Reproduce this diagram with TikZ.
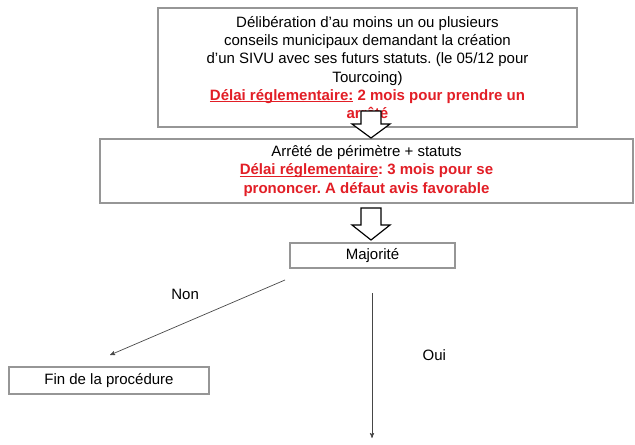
\documentclass[tikz,border=0pt]{standalone}
\usepackage{fontspec}
\setmainfont{Liberation Sans}
\usepackage{tikz}
\usetikzlibrary{arrows}

\definecolor{delaired}{RGB}{226,30,38}
\definecolor{boxgray}{RGB}{150,150,150}
\definecolor{linegray}{RGB}{70,70,70}

\newcommand{\delai}[1]{\textcolor{delaired}{\bfseries #1}}
\newcommand{\souligne}[1]{\setbox0\hbox{#1}\rlap{\rule[-1.6pt]{\wd0}{0.7pt}}\box0\relax}
\frenchspacing

\begin{document}
\begin{tikzpicture}[x=0.03cm,y=-0.03cm,>=stealth',
  step box/.style={rectangle,draw=boxgray,line width=0.9pt,fill=white,inner sep=0pt,
    align=center,font=\fontsize{12.8}{15.6}\selectfont},
  label text/.style={font=\fontsize{12.8}{15.6}\selectfont},
  connector/.style={->,draw=linegray,line width=0.6pt},
  block arrow/.style={draw=black,line width=1pt,fill=white}]

  \useasboundingbox (0,0) rectangle (635,445);

  \node[step box,minimum width=12.57cm,minimum height=3.57cm] (deliberation) at (367.5,67.5)
    {D\'elib\'eration d’au moins un ou plusieurs\\
     conseils municipaux demandant la cr\'eation\\
     d’un SIVU avec ses futurs statuts. (le 05/12 pour\\
     Tourcoing)\\
     \delai{\souligne{D\'elai r\'eglementaire:} 2 mois pour prendre un}\\
     \delai{arr\^et\'e}};
  \node[step box,minimum width=15.99cm,minimum height=1.92cm] (arrete) at (366.5,171)
    {Arr\^et\'e de p\'erim\`etre + statuts\\
     \delai{\souligne{D\'elai r\'eglementaire}: 3 mois pour se}\\
     \delai{prononcer. A d\'efaut avis favorable}};
  \node[step box,minimum width=4.95cm,minimum height=0.75cm] (majorite) at (372.5,255.5) {Majorit\'e};
  \node[step box,minimum width=6cm,minimum height=0.81cm] (fin) at (109,380.5) {Fin de la proc\'edure};

  % block arrows between the steps
  \draw[block arrow] (361,111) -- (381,111) -- (381,124) -- (390,124) -- (371,138)
    -- (352,124) -- (361,124) -- cycle;
  \draw[block arrow] (361,208) -- (381,208) -- (381,225) -- (390,225) -- (371,240)
    -- (352,225) -- (361,225) -- cycle;

  \coordinate (non start) at (285,280);
  \coordinate (non end) at (110,355);
  \coordinate (oui start) at (372,293);
  \coordinate (oui end) at (372,438);

  \path (non start) edge[connector] node[label text,above=0.4cm,xshift=-0.37cm] {Non} (non end)
        (oui start) edge[connector] node[label text,right=1.39cm,yshift=0.3cm] {Oui} (oui end);

\end{tikzpicture}
\end{document}
